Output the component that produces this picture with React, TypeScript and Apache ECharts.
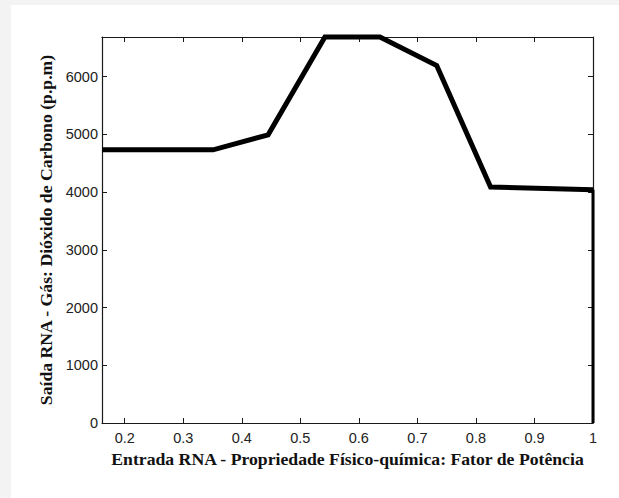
import React, { useEffect, useRef } from "react";
import * as echarts from "echarts";

// Network response: CO2 output versus power factor input
const xValues = [0.1612, 0.351, 0.445, 0.542, 0.636, 0.733, 0.825, 1.0];
const yValues = [4730, 4730, 4990, 6684, 6684, 6190, 4085, 4040];

// closing drop at the right end of the range
const dropX = [1.0, 1.0];
const dropY = [4040, 0];

const xTicks = [0.2, 0.3, 0.4, 0.5, 0.6, 0.7, 0.8, 0.9, 1];
const yTicks = [0, 1000, 2000, 3000, 4000, 5000, 6000];

const xMin = 0.1612;
const xMax = 1;
const yMin = 0;
const yMax = 6684;

const xTitle = "Entrada RNA - Propriedade Físico-química: Fator de Potência";
const yTitle = "Saída RNA - Gás: Dióxido de Carbono (p.p.m)";

const axisColor = "#1a1a1a";
const labelFont = "'Liberation Sans', Arial, sans-serif";
const titleFont = "'Liberation Serif', 'Times New Roman', serif";

export default function App() {
  const ref = useRef<HTMLDivElement>(null);

  useEffect(() => {
    if (!ref.current) return;
    const chart = echarts.init(ref.current, undefined, { renderer: "svg" });

    const frame = {
      axisLine: { show: true, onZero: false, lineStyle: { color: axisColor, width: 1.2 } },
      splitLine: { show: false },
    };
    const ticks = (values: number[]) => ({
      show: true,
      inside: true,
      length: 5,
      customValues: values,
      lineStyle: { color: axisColor, width: 1 },
    });
    const titleStyle = {
      color: "#111",
      fontSize: 17.7,
      fontWeight: "bold",
      fontFamily: titleFont,
    };
    const labelStyle = {
      color: "#222",
      fontSize: 14.5,
      fontFamily: labelFont,
    };

    chart.setOption({
      animation: false,
      backgroundColor: "transparent",
      grid: { left: 102, right: 26, top: 37, bottom: 75 },
      xAxis: [
        {
          type: "value",
          min: xMin,
          max: xMax,
          position: "bottom",
          ...frame,
          axisTick: ticks(xTicks),
          axisLabel: {
            show: true,
            customValues: xTicks,
            margin: 7,
            ...labelStyle,
            formatter: (v: number) => String(Math.round(v * 10) / 10),
          },
          name: xTitle,
          nameLocation: "middle",
          nameGap: 23,
          nameTextStyle: titleStyle,
        },
        {
          type: "value",
          min: xMin,
          max: xMax,
          position: "top",
          ...frame,
          axisTick: ticks(xTicks),
          axisLabel: { show: false },
        },
      ],
      yAxis: [
        {
          type: "value",
          min: yMin,
          max: yMax,
          position: "left",
          ...frame,
          axisTick: ticks(yTicks),
          axisLabel: {
            show: true,
            customValues: yTicks,
            margin: 4,
            ...labelStyle,
            formatter: (v: number) => String(Math.round(v)),
          },
          name: yTitle,
          nameLocation: "middle",
          nameGap: 46,
          nameTextStyle: titleStyle,
        },
        {
          type: "value",
          min: yMin,
          max: yMax,
          position: "right",
          ...frame,
          axisTick: ticks(yTicks),
          axisLabel: { show: false },
        },
      ],
      series: [
        {
          type: "line",
          xAxisIndex: 0,
          yAxisIndex: 0,
          data: xValues.map((x, i) => [x, yValues[i]]),
          showSymbol: false,
          symbol: "none",
          clip: false,
          lineStyle: { color: "#000", width: 5, join: "miter", cap: "butt" },
        },
        {
          type: "line",
          xAxisIndex: 0,
          yAxisIndex: 0,
          data: dropX.map((x, i) => [x, dropY[i]]),
          showSymbol: false,
          symbol: "none",
          clip: false,
          lineStyle: { color: "#000", width: 3, cap: "butt" },
        },
      ],
    });

    return () => chart.dispose();
  }, []);

  return (
    <div
      style={{
        position: "fixed",
        left: 0,
        top: 0,
        width: 619,
        height: 498,
        background: "#f3f3f3",
        overflow: "hidden",
      }}
    >
      <div
        style={{
          position: "absolute",
          left: 11,
          top: 5,
          right: 0,
          bottom: 0,
          background: "#ffffff",
        }}
      />
      <div
        ref={ref}
        style={{ position: "absolute", left: 0, top: 0, width: 619, height: 498 }}
      />
    </div>
  );
}
